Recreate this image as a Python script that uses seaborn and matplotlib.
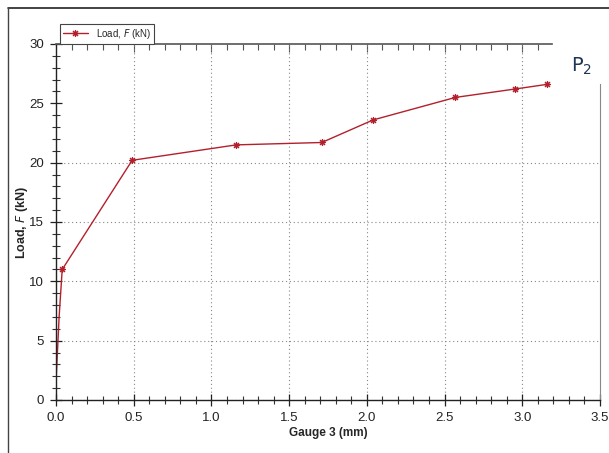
import numpy as np
import matplotlib.pyplot as plt
import seaborn as sns
import pandas as pd
from matplotlib.ticker import MultipleLocator, FixedLocator, NullFormatter
from matplotlib.lines import Line2D

sns.set_style("white")
plt.rcParams["font.family"] = ["Liberation Sans Narrow", "Liberation Sans", "DejaVu Sans"]

# values
gauge = [0.0, 0.02, 0.04, 0.49, 1.16, 1.71, 2.04, 2.57, 2.95, 3.16]
load = [1.5, 7.0, 11.0, 20.2, 21.5, 21.7, 23.6, 25.5, 26.2, 26.6]
series_name = "Load, $F$ (kN)"

df = pd.DataFrame({"gauge": gauge, "load": load})

fig = plt.figure(figsize=(6.09, 4.53), dpi=100)
ax = fig.add_axes([56 / 609, 1 - 400 / 453, 544 / 609, 356 / 453])

red = "#b3202c"
star = (8, 2, 0)
sns.lineplot(data=df, x="gauge", y="load", ax=ax, sort=False, estimator=None,
             color=red, linewidth=1.0, marker=star, markersize=5,
             markeredgecolor=red, markeredgewidth=0.8,
             markevery=list(range(2, len(gauge))))

ax.set_xlim(0, 3.5)
ax.set_ylim(0, 30)
ax.xaxis.set_major_locator(MultipleLocator(0.5))
ax.xaxis.set_minor_locator(MultipleLocator(0.1))
ax.yaxis.set_major_locator(MultipleLocator(5))
ax.yaxis.set_minor_locator(MultipleLocator(1))
ax.xaxis.set_major_formatter(plt.FuncFormatter(lambda v, p: f"{v:.1f}"))
ax.tick_params(axis="x", which="both", bottom=True, top=False)
ax.tick_params(axis="y", which="both", left=True, right=False)
ax.tick_params(axis="both", which="major", direction="inout", length=9, width=0.9,
               labelsize=9.5, colors="#222222", pad=4)
ax.tick_params(axis="both", which="minor", direction="inout", length=6, width=0.8,
               colors="#333333")

ax.grid(True, which="major", color="#888888", linestyle=(0, (1, 2.5)), linewidth=0.8)
for t in ax.yaxis.get_major_ticks():
    if t.get_loc() >= 30 or t.get_loc() <= 0:
        t.gridline.set_visible(False)
for t in ax.xaxis.get_major_ticks():
    if t.get_loc() >= 3.5 or t.get_loc() <= 0:
        t.gridline.set_visible(False)

# top ticks only along the shortened top spine
top = ax.secondary_xaxis("top")
top.spines["top"].set_visible(False)
top.xaxis.set_major_locator(FixedLocator([0.5, 1.0, 1.5, 2.0, 2.5, 3.0]))
top.xaxis.set_minor_locator(FixedLocator([x / 10 for x in range(1, 32) if x % 5]))
top.xaxis.set_major_formatter(NullFormatter())
top.tick_params(which="major", direction="in", length=6, width=0.8, colors="#555555")
top.tick_params(which="minor", direction="in", length=4, width=0.8, colors="#555555")

for side in ["left", "bottom"]:
    ax.spines[side].set_color("#222222")
    ax.spines[side].set_linewidth(1.0)
ax.spines["top"].set_color("#555555")
ax.spines["top"].set_linewidth(1.2)
ax.spines["top"].set_bounds(0, 3.19)
ax.spines["right"].set_color("#888888")
ax.spines["right"].set_bounds(0, 26.6)

ax.set_xlabel("Gauge 3 (mm)", fontsize=8.5, fontweight="bold", labelpad=2)
ax.set_ylabel("Load, $F$ (kN)", fontsize=9, fontweight="bold")
ax.yaxis.set_label_coords(-(56 - 30) / 544, 0.5)

handle = Line2D([], [], color=red, linewidth=1.0, marker=star, markersize=5,
                markeredgewidth=0.8)
leg = fig.legend([handle], [series_name], loc="upper left",
                 bbox_to_anchor=(55 / 609, 1 - 19 / 453), fontsize=7,
                 fancybox=False, framealpha=1, edgecolor="#444444",
                 handlelength=2.6, borderpad=0.3, labelspacing=0.2)
leg.get_frame().set_linewidth(0.8)

# outer frame lines
fig.add_artist(Line2D([8 / 609, 1], [1 - 8 / 453, 1 - 8 / 453], transform=fig.transFigure,
                      color="#222222", linewidth=1.2))
fig.add_artist(Line2D([8 / 609, 8 / 609], [0, 1 - 8 / 453], transform=fig.transFigure,
                      color="#444444", linewidth=1.0))

fig.text(571 / 609, 1 - 66 / 453, r"$\mathregular{P_2}$", fontsize=14,
         color="#1e3556", family="DejaVu Sans", va="center")

fig.savefig("out.png", dpi=100)
